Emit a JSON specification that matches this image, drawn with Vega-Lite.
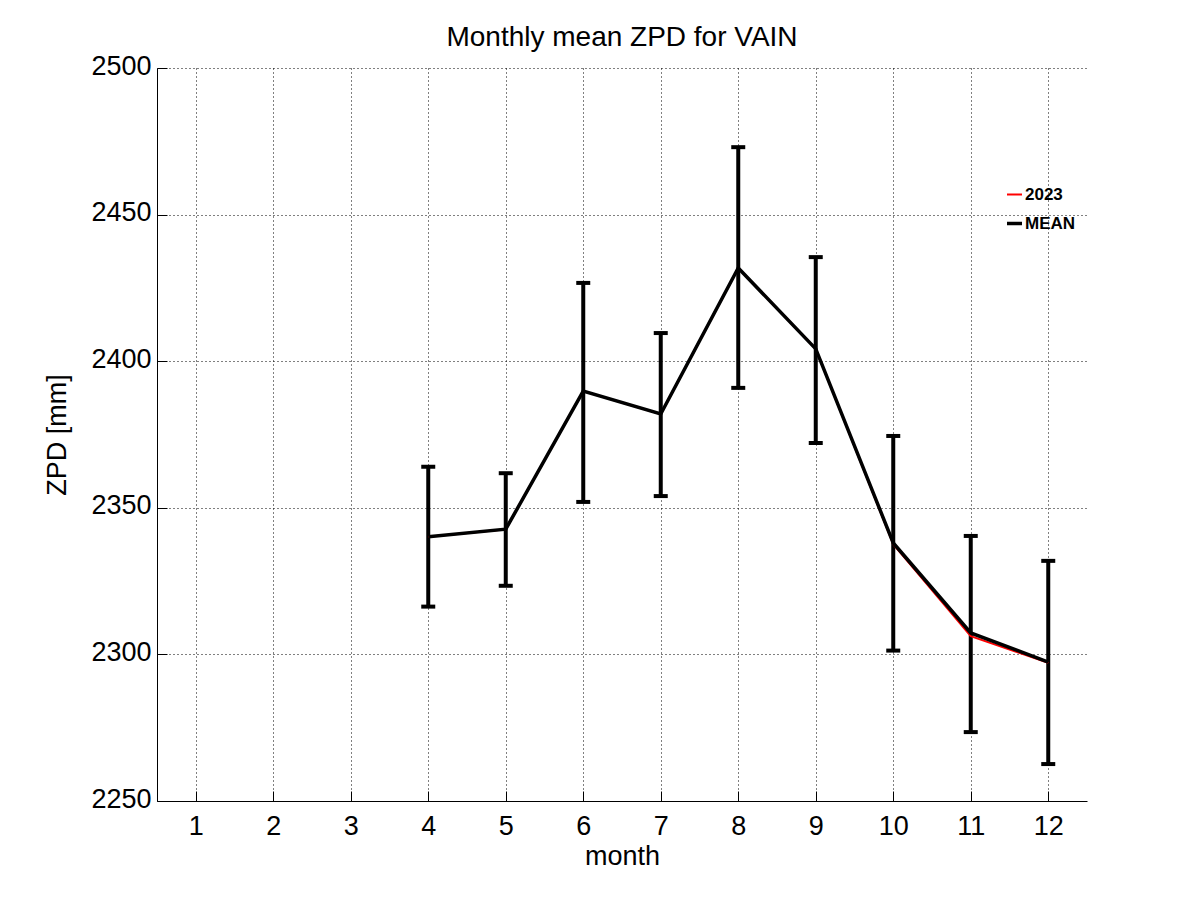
{
  "$schema": "https://vega.github.io/schema/vega-lite/v6.json",
  "width": 930,
  "height": 733,
  "autosize": "none",
  "padding": {"left": 157, "top": 68, "right": 114, "bottom": 100},
  "background": "white",
  "title": {"text": "Monthly mean ZPD for VAIN", "fontSize": 28, "font": "Liberation Sans", "fontWeight": "normal", "color": "black", "offset": 0},
  "config": {
    "font": "Liberation Sans",
    "view": {"stroke": null},
    "axis": {
      "domainColor": "black", "domainWidth": 1,
      "tickColor": "black", "tickSize": -10, "tickWidth": 1,
      "labelFont": "Liberation Sans", "labelFontSize": 27, "labelColor": "black",
      "titleFont": "Liberation Sans", "titleFontSize": 27, "titleFontWeight": "normal", "titleColor": "black",
      "grid": true, "gridColor": "black", "gridDash": [1, 3], "gridWidth": 1, "gridOpacity": 1
    }
  },
  "datasets": {
    "lines": [
      {"month": 4, "series": "2023", "zpd": 2340.1},
      {"month": 5, "series": "2023", "zpd": 2342.7},
      {"month": 6, "series": "2023", "zpd": 2389.8},
      {"month": 7, "series": "2023", "zpd": 2382.0},
      {"month": 8, "series": "2023", "zpd": 2431.8},
      {"month": 9, "series": "2023", "zpd": 2404.2},
      {"month": 10, "series": "2023", "zpd": 2337.6},
      {"month": 11, "series": "2023", "zpd": 2306.2},
      {"month": 12, "series": "2023", "zpd": 2297.1},
      {"month": 4, "series": "MEAN", "zpd": 2340.1},
      {"month": 5, "series": "MEAN", "zpd": 2342.7},
      {"month": 6, "series": "MEAN", "zpd": 2389.8},
      {"month": 7, "series": "MEAN", "zpd": 2382.0},
      {"month": 8, "series": "MEAN", "zpd": 2431.8},
      {"month": 9, "series": "MEAN", "zpd": 2404.2},
      {"month": 10, "series": "MEAN", "zpd": 2338.0},
      {"month": 11, "series": "MEAN", "zpd": 2307.3},
      {"month": 12, "series": "MEAN", "zpd": 2297.4}
    ],
    "errors": [
      {"month": 4, "lo": 2316.3, "hi": 2364.0},
      {"month": 5, "lo": 2323.4, "hi": 2361.8},
      {"month": 6, "lo": 2352.0, "hi": 2426.7},
      {"month": 7, "lo": 2354.0, "hi": 2409.6},
      {"month": 8, "lo": 2390.9, "hi": 2473.0},
      {"month": 9, "lo": 2372.1, "hi": 2435.5},
      {"month": 10, "lo": 2301.3, "hi": 2374.5},
      {"month": 11, "lo": 2273.5, "hi": 2340.4},
      {"month": 12, "lo": 2262.6, "hi": 2331.9}
    ]
  },
  "layer": [
    {
      "data": {"name": "errors"},
      "mark": {"type": "rule", "color": "black", "strokeWidth": 4},
      "encoding": {
        "x": {"field": "month", "type": "quantitative", "scale": {"domain": [0.5, 12.5], "nice": false, "zero": false},
              "axis": {"values": [1,2,3,4,5,6,7,8,9,10,11,12], "title": "month", "labelPadding": 22, "titlePadding": 4, "format": "d"}},
        "y": {"field": "lo", "type": "quantitative", "scale": {"domain": [2250, 2500], "nice": false, "zero": false},
              "axis": {"values": [2250, 2300, 2350, 2400, 2450, 2500], "title": "ZPD [mm]", "labelPadding": 16, "titlePadding": 19, "format": "d", "labelBaseline": "middle", "labelOffset": -2}},
        "y2": {"field": "hi"}
      }
    },
    {
      "data": {"name": "errors"},
      "mark": {"type": "tick", "orient": "horizontal", "color": "black", "size": 14, "thickness": 4, "opacity": 1},
      "encoding": {
        "x": {"field": "month", "type": "quantitative"},
        "y": {"field": "lo", "type": "quantitative"}
      }
    },
    {
      "data": {"name": "errors"},
      "mark": {"type": "tick", "orient": "horizontal", "color": "black", "size": 14, "thickness": 4, "opacity": 1},
      "encoding": {
        "x": {"field": "month", "type": "quantitative"},
        "y": {"field": "hi", "type": "quantitative"}
      }
    },
    {
      "data": {"name": "lines"},
      "mark": {"type": "line"},
      "encoding": {
        "x": {"field": "month", "type": "quantitative"},
        "y": {"field": "zpd", "type": "quantitative"},
        "color": {"field": "series", "type": "nominal", "scale": {"domain": ["2023", "MEAN"], "range": ["#ff0000", "#000000"]},
                  "legend": {"title": null, "orient": "none", "legendX": 848, "legendY": 118, "symbolType": "stroke", "symbolSize": 225,
                             "labelFont": "Liberation Sans", "labelFontSize": 17, "labelFontWeight": "bold", "labelColor": "black",
                             "labelOffset": 1, "rowPadding": 11}},
        "strokeWidth": {"field": "series", "type": "nominal", "scale": {"domain": ["2023", "MEAN"], "range": [2, 3.5]},
                        "legend": {"title": null}},
        "order": {"field": "series"}
      }
    }
  ]
}
